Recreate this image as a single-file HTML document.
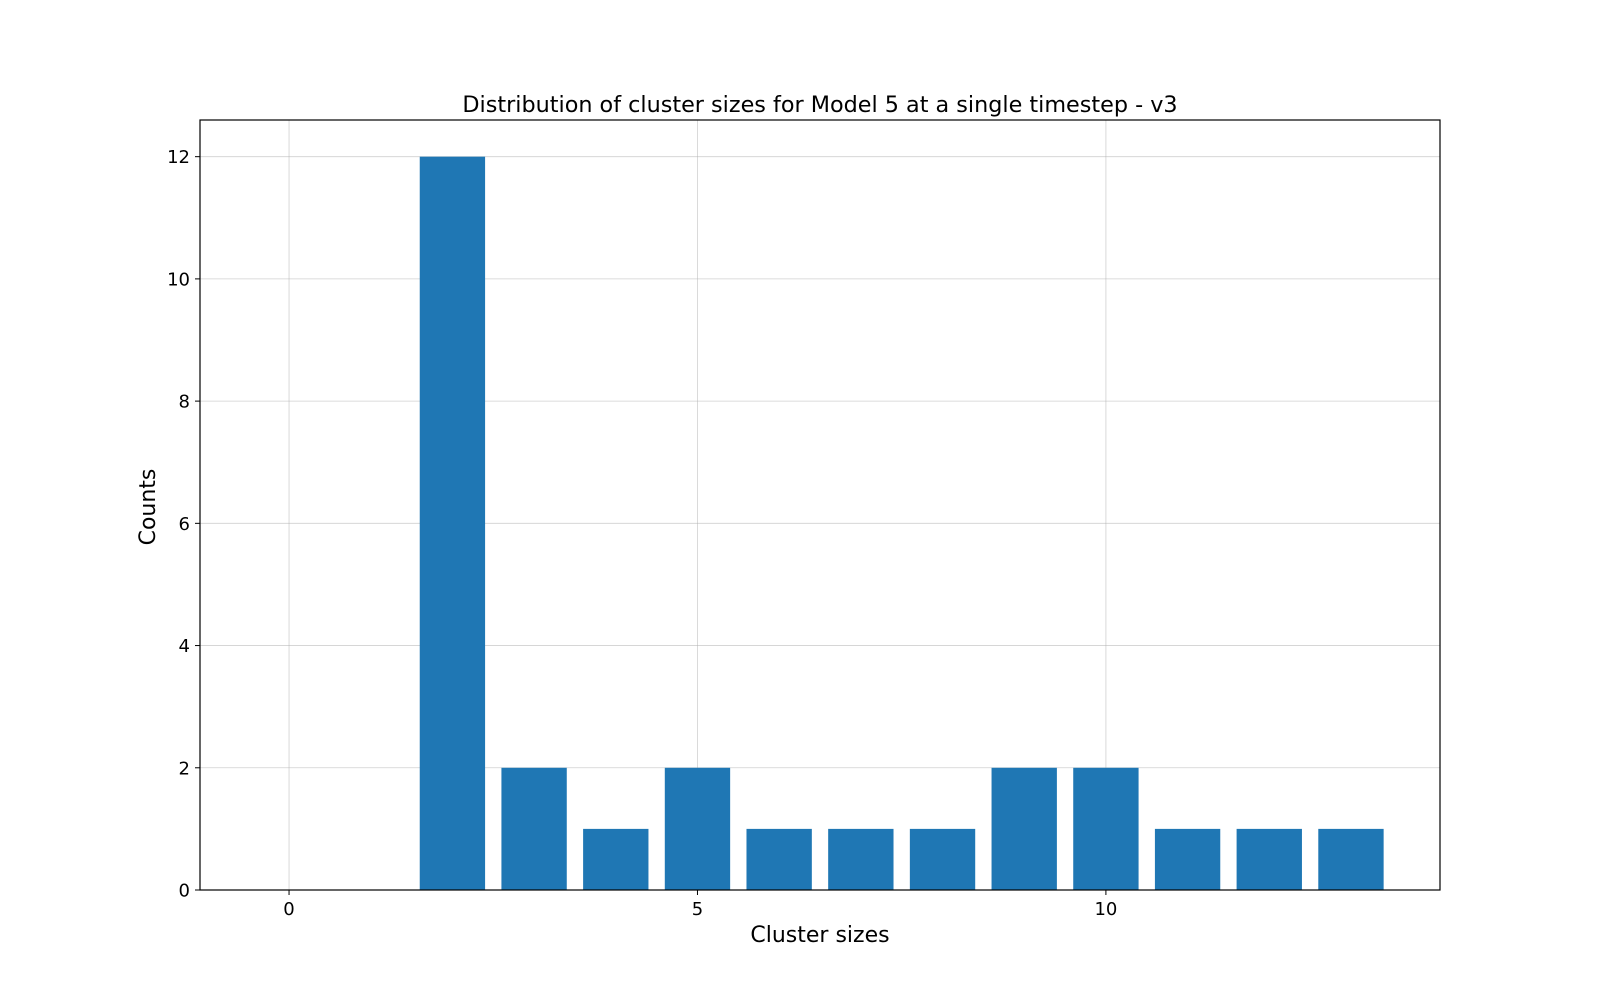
<!DOCTYPE html>
<html><head><meta charset="utf-8"><style>body{margin:0;background:#fff}svg{display:block}text{font-family:"DejaVu Sans","Liberation Sans",sans-serif;fill:#000}</style></head>
<body>
<svg id="chart" width="1600" height="1000"></svg>
<script>
const categories = [0,1,2,3,4,5,6,7,8,9,10,11,12,13];
const counts = [0,0,12,2,1,2,1,1,1,2,2,1,1,1];
const xTicks = [0,5,10];
const yTicks = [0,2,4,6,8,10,12];
const L=200,R=1440,T=120,B=890;
const xMin=-1.09,xMax=14.09,yMin=0,yMax=12.6;
const sx=v=>L+(v-xMin)/(xMax-xMin)*(R-L);
const sy=v=>B-(v-yMin)/(yMax-yMin)*(B-T);
const svg=document.getElementById('chart');
const NS='http://www.w3.org/2000/svg';
function mk(t,a,p){const e=document.createElementNS(NS,t);for(const k in a)e.setAttribute(k,a[k]);(p||svg).appendChild(e);return e;}
mk('rect',{x:L,y:T,width:R-L,height:B-T,fill:'#fff'});
const grid=mk('g',{});


xTicks.forEach(v=>{const l=mk('line',{x1:sx(v),x2:sx(v),y1:T,y2:B,stroke:'#b0b0b0','stroke-width':0.8,'stroke-opacity':0.6},grid);});
yTicks.forEach(v=>{const l=mk('line',{x1:L,x2:R,y1:sy(v),y2:sy(v),stroke:'#b0b0b0','stroke-width':0.8,'stroke-opacity':0.6},grid);});
const bars=mk('g',{});


categories.forEach((c,i)=>{if(counts[i]<=0)return;const r=mk('rect',{x:sx(c-0.4),y:sy(counts[i]),width:sx(c+0.4)-sx(c-0.4),height:sy(0)-sy(counts[i]),fill:'#1f77b4'},bars);});
const fr=mk('rect',{x:L,y:T,width:R-L,height:B-T,fill:'none',stroke:'#000','stroke-width':1.2});


xTicks.forEach(v=>{mk('line',{x1:sx(v),x2:sx(v),y1:B,y2:B+5,stroke:'#000'});const t=mk('text',{x:sx(v),y:B+25,'text-anchor':'middle','font-size':18});t.textContent=v;});
yTicks.forEach(v=>{mk('line',{x1:L-5,x2:L,y1:sy(v),y2:sy(v),stroke:'#000'});const t=mk('text',{x:L-10,y:sy(v)+6.5,'text-anchor':'end','font-size':18});t.textContent=v;});
</script>
<svg style="position:absolute;left:0;top:0" width="1600" height="1000">
<text x="820" y="112" text-anchor="middle" font-size="22.3">Distribution of cluster sizes for Model 5 at a single timestep - v3</text>
<text x="820" y="942" text-anchor="middle" font-size="22">Cluster sizes</text>
<text x="155" y="507" text-anchor="middle" font-size="22" transform="rotate(-90 155 507)">Counts</text>
</svg>
</body></html>
